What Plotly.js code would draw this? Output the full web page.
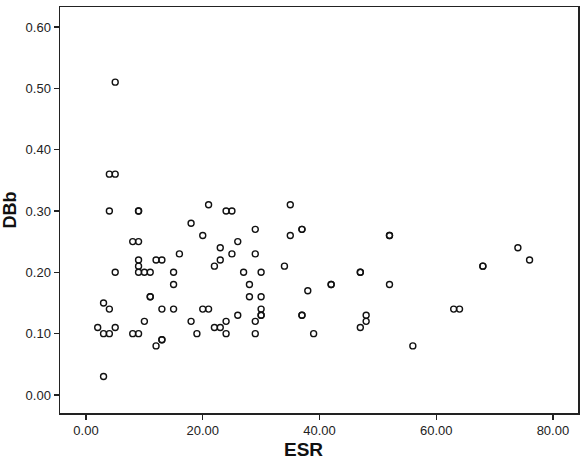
<!DOCTYPE html>
<html>
<head>
<meta charset="utf-8">
<script src="https://cdn.plot.ly/plotly-3.0.1.min.js"></script>
<style>
  html, body { margin: 0; padding: 0; background: #fff; }
  #chart { width: 585px; height: 461px; }
</style>
</head>
<body>
<div id="chart"></div>
<script>
// ESR vs DBb
var esr = [
  5, 4, 5, 4, 9, 9, 21, 24, 25, 18, 20, 8, 9, 23, 26, 16, 25, 9, 12, 13, 23, 9, 22,
  5, 9, 10, 11, 15, 15, 11, 11, 3, 4, 13, 15, 20, 21, 26, 10, 18, 24, 2, 5, 22, 23,
  3, 4, 8, 9, 19, 24, 13, 13, 12, 3,
  35, 29, 35, 37, 37, 29, 34, 27, 30, 28, 38, 28, 30, 30, 30, 30, 37, 37, 29, 29, 39,
  52, 52, 74, 76, 47, 47, 68, 68, 42, 42, 52, 48, 48, 47, 63, 64, 56
];
var dbb = [
  0.51, 0.36, 0.36, 0.30, 0.30, 0.30, 0.31, 0.30, 0.30, 0.28, 0.26, 0.25, 0.25, 0.24, 0.25, 0.23, 0.23, 0.22, 0.22, 0.22, 0.22, 0.21, 0.21,
  0.20, 0.20, 0.20, 0.20, 0.20, 0.18, 0.16, 0.16, 0.15, 0.14, 0.14, 0.14, 0.14, 0.14, 0.13, 0.12, 0.12, 0.12, 0.11, 0.11, 0.11, 0.11,
  0.10, 0.10, 0.10, 0.10, 0.10, 0.10, 0.09, 0.09, 0.08, 0.03,
  0.31, 0.27, 0.26, 0.27, 0.27, 0.23, 0.21, 0.20, 0.20, 0.18, 0.17, 0.16, 0.16, 0.14, 0.13, 0.13, 0.13, 0.13, 0.12, 0.10, 0.10,
  0.26, 0.26, 0.24, 0.22, 0.20, 0.20, 0.21, 0.21, 0.18, 0.18, 0.18, 0.13, 0.12, 0.11, 0.14, 0.14, 0.08
];
var xTicks = [0, 20, 40, 60, 80];
var yTicks = [0, 0.1, 0.2, 0.3, 0.4, 0.5, 0.6];

var pts = {
  x: esr,
  y: dbb,
  mode: 'markers',
  type: 'scatter',
  marker: {
    symbol: 'circle-open',
    size: 6,
    color: '#111',
    line: { width: 1.4, color: '#111' }
  },
  hoverinfo: 'x+y'
};

var tickFont = { family: 'Liberation Sans, Arial, sans-serif', size: 13, color: '#222' };
var titleFont = { family: 'Liberation Sans, Arial, sans-serif', size: 19, color: '#111', weight: 'bold' };

var layout = {
  width: 585,
  height: 461,
  margin: { l: 60, r: 7, t: 7, b: 48 },
  paper_bgcolor: '#fff',
  plot_bgcolor: '#fff',
  showlegend: false,
  xaxis: {
    range: [-4.46, 84.3],
    tickvals: xTicks,
    tickformat: '.2f',
    ticks: 'outside',
    ticklen: 5,
    tickwidth: 1.2,
    tickcolor: '#222',
    showline: true,
    mirror: true,
    linecolor: '#222',
    linewidth: 1.5,
    showgrid: false,
    zeroline: false,
    tickfont: tickFont
  },
  yaxis: {
    range: [-0.0294, 0.6325],
    tickvals: yTicks,
    tickformat: '.2f',
    ticks: 'outside',
    ticklen: 5,
    tickwidth: 1.2,
    tickcolor: '#222',
    showline: true,
    mirror: true,
    linecolor: '#222',
    linewidth: 1.5,
    showgrid: false,
    zeroline: false,
    tickfont: tickFont,
    title: {
      text: 'DBb',
      standoff: 10,
      font: { family: 'Liberation Sans, Arial, sans-serif', size: 18, color: '#111', weight: 'bold' }
    }
  },
  // x title sits a little left of centre in the original
  annotations: [{
    text: 'ESR',
    xref: 'paper', yref: 'paper',
    x: 0.471, y: -0.091,
    xanchor: 'center', yanchor: 'middle',
    showarrow: false,
    font: titleFont
  }]
};

Plotly.newPlot('chart', [pts], layout, { displayModeBar: false, staticPlot: true });
</script>
</body>
</html>
